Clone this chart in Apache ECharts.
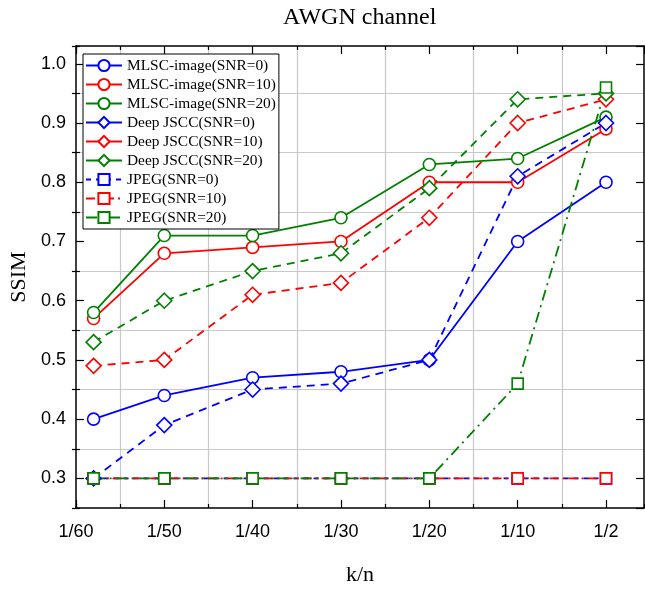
<!DOCTYPE html>
<html>
<head>
<meta charset="utf-8">
<script src="https://cdn.jsdelivr.net/npm/echarts@6/dist/echarts.min.js"></script>
<style>html,body{margin:0;padding:0;background:#fff}#chart{width:645px;height:592px}</style>
</head>
<body>
<div id="chart"></div>
<script>
// categories and x positions (first point sits a bit right of the 1/60 tick)
var xLabels = ['1/60', '1/50', '1/40', '1/30', '1/20', '1/10', '1/2'];
var xPos = [0.2, 1, 2, 3, 4, 5, 6];

// SSIM values
var mlsc0 = [0.40, 0.44, 0.47, 0.48, 0.50, 0.70, 0.80];
var mlsc10 = [0.57, 0.68, 0.69, 0.70, 0.80, 0.80, 0.89];
var mlsc20 = [0.58, 0.71, 0.71, 0.74, 0.83, 0.84, 0.91];
var jscc0 = [0.30, 0.39, 0.45, 0.46, 0.50, 0.81, 0.90];
var jscc10 = [0.49, 0.50, 0.61, 0.63, 0.74, 0.90, 0.94];
var jscc20 = [0.53, 0.60, 0.65, 0.68, 0.79, 0.94, 0.95];
var jpeg0 = [0.30, 0.30, 0.30, 0.30, 0.30, 0.30, 0.30];
var jpeg10 = [0.30, 0.30, 0.30, 0.30, 0.30, 0.30, 0.30];
var jpeg20 = [0.30, 0.30, 0.30, 0.30, 0.30, 0.46, 0.96];

var XMAX = 6.43, YMIN = 0.25, YMAX = 1.03;
var serif = "'Liberation Serif', 'Times New Roman', serif";
var sans = "'Liberation Sans', Arial, sans-serif";

function pts(arr) {
    var out = [];
    for (var i = 0; i < arr.length; i++) out.push([xPos[i], arr[i]]);
    return out;
}

function mk(name, arr, color, symbol, size, dash) {
    return {
        name: name,
        type: 'line',
        data: pts(arr),
        symbol: symbol,
        symbolSize: size,
        showAllSymbol: true,
        lineStyle: { color: color, width: 1.8, type: dash },
        itemStyle: { color: '#fff', borderColor: color, borderWidth: 1.6 },
        emphasis: { disabled: true }
    };
}

// main axis (ticks + labels) and a helper axis shifted half a step for minor ticks / grid
function mainX(pos, labels) {
    return {
        type: 'value', position: pos, min: 0, max: XMAX, minInterval: 1, maxInterval: 1,
        axisLine: { show: true, onZero: false, lineStyle: { color: '#000', width: 1.5 } },
        axisTick: { show: true, inside: true, length: 8, lineStyle: { color: '#000', width: 1.2 } },
        axisLabel: {
            show: labels, margin: 15, showMaxLabel: false,
            fontFamily: sans, fontSize: 18, color: '#000',
            formatter: function (v) { return Math.abs(v - Math.round(v)) < 1e-6 ? (xLabels[Math.round(v)] || '') : ''; }
        },
        splitLine: { show: false }
    };
}
function helpX(pos) {
    return {
        type: 'value', position: pos, min: 0.5, max: XMAX + 0.5, minInterval: 1, maxInterval: 1,
        axisLine: { show: false },
        axisTick: { show: true, inside: true, length: 4, lineStyle: { color: '#000', width: 1.2 } },
        axisLabel: { show: false },
        splitLine: { show: pos === 'bottom', showMinLine: false, showMaxLine: false, lineStyle: { color: '#c8c8c8', width: 1.2 } }
    };
}
function mainY(pos, labels) {
    return {
        type: 'value', position: pos, min: YMIN, max: YMAX, minInterval: 0.1, maxInterval: 0.1,
        axisLine: { show: true, onZero: false, lineStyle: { color: '#000', width: 1.5 } },
        axisTick: { show: true, inside: true, length: 8, lineStyle: { color: '#000', width: 1.2 } },
        axisLabel: {
            show: labels, margin: 10, showMinLabel: false, showMaxLabel: false,
            fontFamily: sans, fontSize: 18, color: '#000',
            formatter: function (v) { return v.toFixed(1); }
        },
        splitLine: { show: false }
    };
}
function helpY(pos) {
    return {
        type: 'value', position: pos, min: YMIN - 0.05, max: YMAX - 0.05, minInterval: 0.1, maxInterval: 0.1,
        axisLine: { show: false },
        axisTick: { show: true, inside: true, length: 4, lineStyle: { color: '#000', width: 1.2 } },
        axisLabel: { show: false },
        splitLine: { show: pos === 'left', showMinLine: false, showMaxLine: false, lineStyle: { color: '#c8c8c8', width: 1.2 } }
    };
}

var xa = mainX('bottom', true);
xa.name = 'k/n';
xa.nameLocation = 'middle';
xa.nameGap = 56;
xa.nameTextStyle = { fontFamily: serif, fontSize: 22, color: '#000' };
var ya = mainY('left', true);
ya.name = 'SSIM';
ya.nameLocation = 'middle';
ya.nameGap = 36;
ya.nameTextStyle = { fontFamily: serif, fontSize: 22, color: '#000' };

var series = [
    mk('MLSC-image(SNR=0)', mlsc0, '#0000ff', 'circle', 12, 'solid'),
    mk('MLSC-image(SNR=10)', mlsc10, '#ff0000', 'circle', 12, 'solid'),
    mk('MLSC-image(SNR=20)', mlsc20, '#008000', 'circle', 12, 'solid'),
    mk('Deep JSCC(SNR=0)', jscc0, '#0000ff', 'diamond', 15, [8, 6]),
    mk('Deep JSCC(SNR=10)', jscc10, '#ff0000', 'diamond', 15, [8, 6]),
    mk('Deep JSCC(SNR=20)', jscc20, '#008000', 'diamond', 15, [8, 6]),
    mk('JPEG(SNR=0)', jpeg0, '#0000ff', 'rect', 11, [5, 5]),
    mk('JPEG(SNR=10)', jpeg10, '#ff0000', 'rect', 11, [9, 4, 2, 4]),
    mk('JPEG(SNR=20)', jpeg20, '#008000', 'rect', 11, [11, 5, 2, 5])
];

// the legend draws the Deep JSCC entries with a solid line
var legendData = series.map(function (s) {
    var d = { name: s.name };
    if (s.name.indexOf('Deep') === 0) d.lineStyle = { type: 'solid' };
    return d;
});

var chart = echarts.init(document.getElementById('chart'));
chart.setOption({
    animation: false,
    backgroundColor: '#fff',
    title: {
        text: 'AWGN channel', left: 283, top: 6, padding: 0,
        textStyle: { fontFamily: serif, fontSize: 24, fontWeight: 'normal', color: '#000' }
    },
    grid: { left: 74, right: 1, top: 46, bottom: 84, containLabel: false },
    legend: {
        orient: 'vertical', left: 83, top: 54,
        itemWidth: 36, itemHeight: 14, itemGap: 4,
        padding: [4, 3, 4, 2],
        borderColor: '#000', borderWidth: 1, backgroundColor: '#fff',
        data: legendData,
        textStyle: { fontFamily: serif, fontSize: 15.4, lineHeight: 14, color: '#000' }
    },
    xAxis: [xa, helpX('bottom'), mainX('top', false), helpX('top')],
    yAxis: [ya, helpY('left'), mainY('right', false), helpY('right')],
    series: series
});
</script>
</body>
</html>
